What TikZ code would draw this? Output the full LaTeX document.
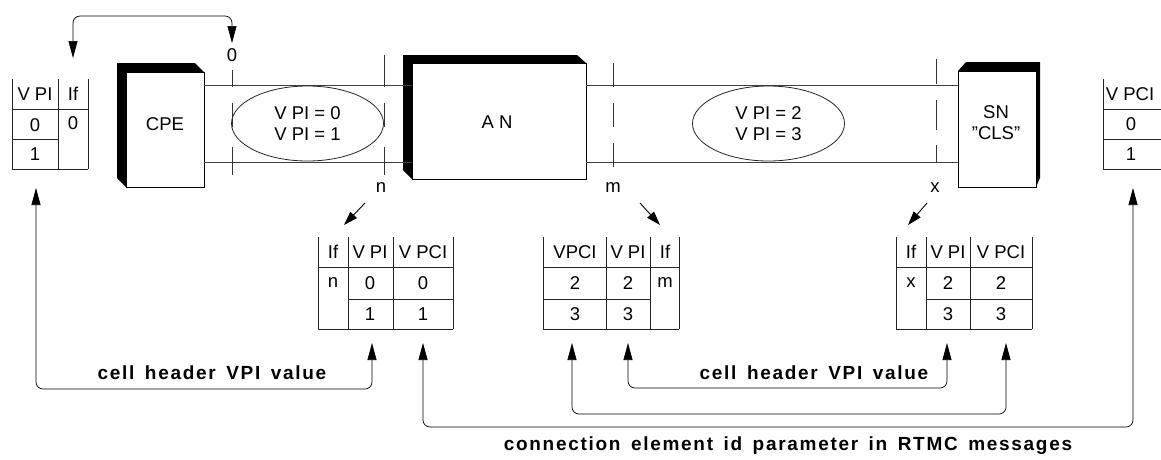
\documentclass[tikz,border=0pt]{standalone}
\usepackage{fontspec}
\setmainfont{Liberation Sans}
\newfontfamily\notefont{Liberation Sans}[LetterSpace=9,WordSpace=1.5]
\usetikzlibrary{arrows.meta,shapes.geometric}

\tikzset{
  txt/.style={font=\fontsize{18.5}{21}\selectfont, inner sep=0pt},
  note/.style={font=\notefont\bfseries\fontsize{19}{21}\selectfont, inner sep=0pt},
  tab/.style={line width=0.8pt, black!85},
  pipe/.style={line width=0.8pt, black!75},
  tick/.style={line width=0.8pt, black!80},
  box/.style={draw, line width=0.8pt, fill=white, inner sep=0pt},
  shade/.style={fill=black},
  oval/.style={ellipse, draw=black!85, line width=0.8pt, inner sep=0pt, align=center,
               minimum width=152pt, minimum height=75pt, font=\fontsize{18.5}{21}\selectfont},
  link/.style={line width=0.7pt, rounded corners=7pt,
               {Triangle[length=17pt,width=9pt]}-{Triangle[length=17pt,width=9pt]}},
  pointer/.style={line width=0.9pt, -{Triangle[length=14pt,width=9pt]}},
}

\begin{document}
\begin{tikzpicture}[x=1pt, y=-1pt]
\useasboundingbox (0,0) rectangle (1161,459);

% pipe levels
\coordinate (tp) at (0,85);
\coordinate (bp) at (0,162);

% equipment boxes with their dark back faces
\fill[shade] (117,63) -- (195,63) -- (204,72) -- (126,72) -- (126,187) -- (117,178) -- cycle;
\node[box, minimum width=78pt, minimum height=115pt] (cpe) at (165,129.5) {};
\node[txt] at (165,124) {CPE};

\fill[shade] (403,55) -- (577,55) -- (586,63) -- (412,63) -- (412,179) -- (403,170) -- cycle;
\node[box, minimum width=174pt, minimum height=116pt] (an) at (499,121) {};
\node[txt] at (497,122) {A N};

\fill[shade] (958,71) -- (966,62) -- (1040,62) -- (1040,178) -- (1036,187) -- (1036,71) -- cycle;
\node[box, minimum width=78pt, minimum height=116pt] (sn) at (997,129) {};
\node[txt, align=center] at (996,123) {SN\\\symbol{34}CLS\symbol{34}};

% links between the boxes
\draw[pipe] (cpe.east |- tp) -- (an.west |- tp);
\draw[pipe] (cpe.east |- bp) -- (an.west |- bp);
\draw[pipe] (an.east |- tp) -- (sn.west |- tp);
\draw[pipe] (an.east |- bp) -- (sn.west |- bp);

% interface markers
\foreach \x/\a/\b in {232/70/87, 232/103/127, 232/147/175,
                      384/55/87, 384/103/127, 384/147/175,
                      613/63/87, 613/103/127, 613/143/167,
                      936/59/84, 936/100/130, 936/145/163}
  \draw[tick] (\x,\a) -- (\x,\b);

\node[oval] (vp01) at (307.5,123.5) {V PI = 0\\V PI = 1};
\node[oval] (vp23) at (768.5,123.5) {V PI = 2\\V PI = 3};

\node[txt] (if0) at (232,55) {0};
\node[txt] (ifn) at (381,188) {n};
\node[txt] (ifm) at (613,188) {m};
\node[txt] (ifx) at (935,188) {x};

% left table (CPE)
\draw[tab] (12,79) -- (12,169) (58,79) -- (58,169) (88,79) -- (88,169)
           (12,109) -- (88,109) (12,139) -- (58,139) (12,169) -- (88,169);
\node[txt] (lt-vpi) at (35,94) {V PI};
\node[txt] (lt-if) at (73,94) {If};
\node[txt] at (35,125) {0};
\node[txt] at (73,123) {0};
\node[txt] at (35,154) {1};

% right table (SN)
\draw[tab] (1103,79) -- (1103,169) (1103,109) -- (1161,109)
           (1103,139) -- (1161,139) (1103,169) -- (1161,169);
\node[txt] (rt-vpci) at (1130,94) {V PCI};
\node[txt] at (1131,124) {0};
\node[txt] at (1131,154) {1};

% AN table, port n
\draw[tab] (318,237) -- (318,329) (348,237) -- (348,329) (393,237) -- (393,329) (453,237) -- (453,329)
           (318,267) -- (453,267) (348,299) -- (453,299) (318,329) -- (453,329);
\node[txt] (tn-if) at (333,252) {If};
\node[txt] (tn-vpi) at (370,252) {V PI};
\node[txt] (tn-vpci) at (423,252) {V PCI};
\node[txt] at (333,283) {n};
\node[txt] at (370,283) {0};
\node[txt] at (423,283) {0};
\node[txt] at (370,314) {1};
\node[txt] at (423,314) {1};

% AN table, port m
\draw[tab] (543,237) -- (543,329) (606,237) -- (606,329) (650,237) -- (650,329) (679,237) -- (679,329)
           (543,267) -- (679,267) (543,299) -- (650,299) (543,329) -- (679,329);
\node[txt] (tm-vpci) at (575,252) {VPCI};
\node[txt] (tm-vpi) at (628,252) {V PI};
\node[txt] (tm-if) at (665,252) {If};
\node[txt] at (575,283) {2};
\node[txt] at (628,283) {2};
\node[txt] at (665,283) {m};
\node[txt] at (575,314) {3};
\node[txt] at (628,314) {3};

% SN table, port x
\draw[tab] (896,237) -- (896,329) (926,237) -- (926,329) (970,237) -- (970,329) (1032,237) -- (1032,329)
           (896,267) -- (1032,267) (926,299) -- (1032,299) (896,329) -- (1032,329);
\node[txt] (tx-if) at (911,252) {If};
\node[txt] (tx-vpi) at (948,252) {V PI};
\node[txt] (tx-vpci) at (1001,252) {V PCI};
\node[txt] at (911,283) {x};
\node[txt] at (948,283) {2};
\node[txt] at (1001,283) {2};
\node[txt] at (948,314) {3};
\node[txt] at (1001,314) {3};

% arrow ends
\coordinate (lt-top) at (73,58);
\coordinate (if0-top) at (232,43);
\coordinate (lt-bot) at (36,188);
\coordinate (rt-bot) at (1133,188);
\coordinate (tn-a) at (372,343);
\coordinate (tn-b) at (423,343);
\coordinate (tm-a) at (572,343);
\coordinate (tm-b) at (628,343);
\coordinate (tx-a) at (947,343);
\coordinate (tx-b) at (1006,343);

\draw[link] (lt-top) -- ++(0,-42) -| (if0-top);
\draw[link] (lt-bot) -- ++(0,201) -| (tn-a);
\draw[link] (tm-b) -- ++(0,45) -| (tx-a);
\draw[link] (tm-a) -- ++(0,71) -| (tx-b);
\draw[link] (tn-b) -- ++(0,84) -| (rt-bot);

\draw[pointer] (365,203) -- (344,225);
\draw[pointer] (640,203) -- (660,225);
\draw[pointer] (927,203) -- (908,225);

\node[note] at (212,373) {cell header VPI value};
\node[note] at (814,373) {cell header VPI value};
\node[note] at (788,446) {connection element id parameter in RTMC messages};
\end{tikzpicture}
\end{document}
